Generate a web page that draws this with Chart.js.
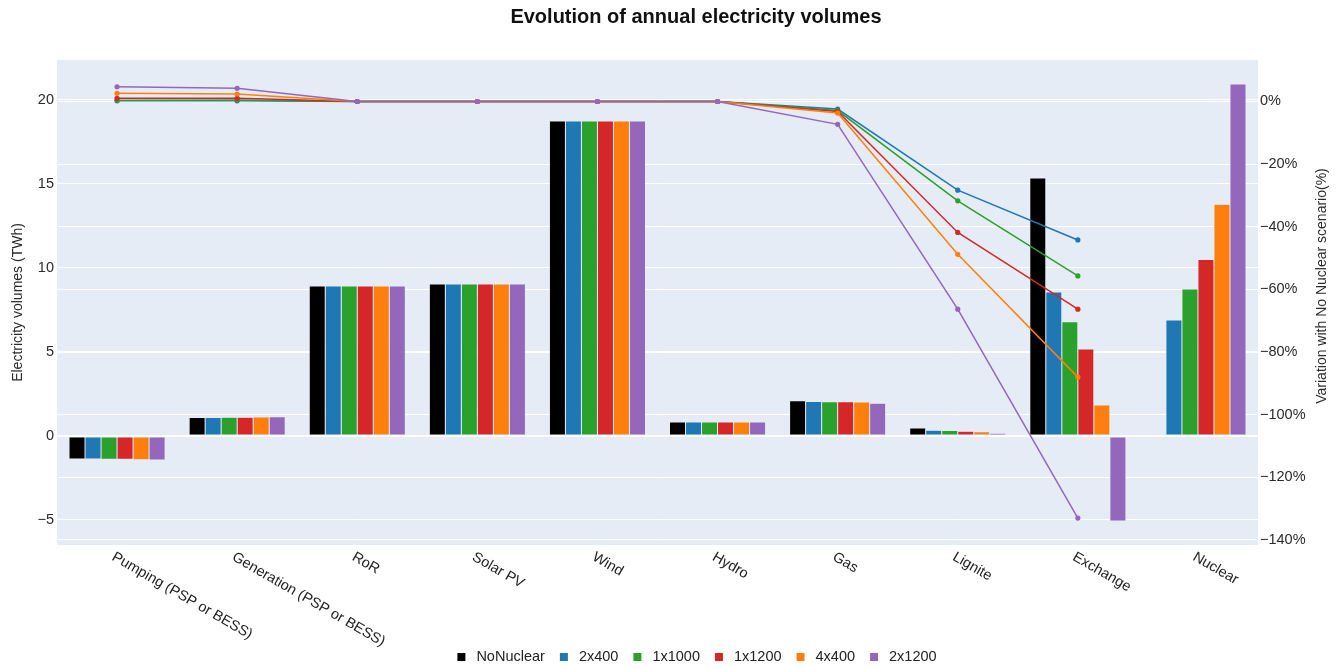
<!DOCTYPE html>
<html>
<head>
<meta charset="utf-8">
<title>Evolution of annual electricity volumes</title>
<script src="https://cdn.jsdelivr.net/npm/chart.js@4/dist/chart.umd.min.js"></script>
<style>
  html, body { margin: 0; padding: 0; background: #ffffff; }
  #wrap { width: 1343px; height: 669px; }
</style>
</head>
<body>
<div id="wrap"><canvas id="chart" width="1343" height="669"></canvas></div>
<script>
// Technologies on the category axis
const categories = ['Pumping (PSP or BESS)', 'Generation (PSP or BESS)', 'RoR', 'Solar PV', 'Wind',
                    'Hydro', 'Gas', 'Lignite', 'Exchange', 'Nuclear'];

// Scenarios and their colours
const scenarios = ['NoNuclear', '2x400', '1x1000', '1x1200', '4x400', '2x1200'];
const scenarioColors = ['#000000', '#1f77b4', '#2ca02c', '#d62728', '#ff7f0e', '#9467bd'];

// Annual volumes per scenario (TWh), one value per category
const volNoNuclear = [-1.37, 1.10, 8.93, 9.05, 18.75, 0.83, 2.10, 0.48, 15.36, 0];
const vol2x400     = [-1.37, 1.10, 8.93, 9.05, 18.75, 0.83, 2.05, 0.34, 8.57, 6.90];
const vol1x1000    = [-1.38, 1.11, 8.93, 9.05, 18.75, 0.83, 2.04, 0.33, 6.80, 8.75];
const vol1x1200    = [-1.38, 1.11, 8.93, 9.05, 18.75, 0.83, 2.03, 0.28, 5.18, 10.50];
const vol4x400     = [-1.41, 1.13, 8.93, 9.05, 18.75, 0.83, 2.02, 0.25, 1.85, 13.80];
const vol2x1200    = [-1.43, 1.15, 8.93, 9.05, 18.75, 0.83, 1.95, 0.16, -5.06, 20.95];

// Variation against the NoNuclear scenario (%), no value for Nuclear
const var2x400  = [0.2, 0.2, 0, 0, 0, 0, -2.4, -28.3, -44.2, null];
const var1x1000 = [0.4, 0.5, 0, 0, 0, 0, -2.9, -31.7, -55.7, null];
const var1x1200 = [1.0, 1.0, 0, 0, 0, 0, -3.2, -41.8, -66.3, null];
const var4x400  = [2.6, 2.4, 0, 0, 0, 0, -3.7, -48.8, -88.0, null];
const var2x1200 = [4.7, 4.2, 0, 0, 0, 0, -7.3, -66.3, -133.0, null];

// Axis ranges and tick steps
const volumeRange = [-6.49, 22.38];
const volumeStep = 5;
const variationRange = [-141.6, 13.25];
const variationStep = 20;

const FONT = "'Liberation Sans', Arial, Helvetica, sans-serif";
const TEXT = '#2b2b2b';
const PLOT_BG = '#E5ECF6';

const volumes = [volNoNuclear, vol2x400, vol1x1000, vol1x1200, vol4x400, vol2x1200];
const variations = [null, var2x400, var1x1000, var1x1200, var4x400, var2x1200];

const datasets = [];
scenarios.forEach((name, i) => {
  datasets.push({
    type: 'bar',
    label: name,
    data: volumes[i],
    backgroundColor: scenarioColors[i],
    borderColor: PLOT_BG,
    borderWidth: 0.5,
    borderSkipped: false,
    yAxisID: 'y',
    order: 20,
    categoryPercentage: 0.8,
    barPercentage: 1.0
  });
});
scenarios.forEach((name, i) => {
  if (!variations[i]) return;
  datasets.push({
    type: 'line',
    label: name + ' variation',
    data: variations[i],
    borderColor: scenarioColors[i],
    backgroundColor: scenarioColors[i],
    pointBackgroundColor: scenarioColors[i],
    pointBorderWidth: 0,
    pointRadius: 2.6,
    borderWidth: 1.5,
    tension: 0,
    spanGaps: false,
    fill: false,
    yAxisID: 'y2',
    order: 10 - i
  });
});

// Plot background behind the grid
const plotBackground = {
  id: 'plotBackground',
  beforeDraw(chart) {
    const { ctx, chartArea: a } = chart;
    ctx.save();
    ctx.fillStyle = PLOT_BG;
    ctx.fillRect(a.left, a.top, a.right - a.left, a.bottom - a.top);
    ctx.restore();
  }
};

// Title, slanted category labels, axis titles and legend
const annotations = {
  id: 'annotations',
  afterDraw(chart) {
    const { ctx, chartArea: a } = chart;
    const xs = chart.scales.x;
    ctx.save();

    // Title
    ctx.fillStyle = '#111';
    ctx.font = 'bold 20px ' + FONT;
    ctx.textAlign = 'center';
    ctx.textBaseline = 'middle';
    ctx.fillText('Evolution of annual electricity volumes', 696, 17);

    // Category labels rotated 30 degrees clockwise
    ctx.fillStyle = '#222';
    ctx.font = '14.5px ' + FONT;
    categories.forEach((label, i) => {
      const x = xs.getPixelForValue(i);
      ctx.save();
      ctx.translate(x - 4, a.bottom + 11);
      ctx.rotate(Math.PI / 6);
      ctx.textAlign = 'left';
      ctx.textBaseline = 'middle';
      ctx.fillText(label, 0, 0);
      ctx.restore();
    });

    // Axis titles
    ctx.fillStyle = TEXT;
    ctx.font = '14px ' + FONT;
    ctx.textAlign = 'center';
    ctx.textBaseline = 'middle';
    ctx.save();
    ctx.translate(18, (a.top + a.bottom) / 2);
    ctx.rotate(-Math.PI / 2);
    ctx.fillText('Electricity volumes (TWh)', 0, 0);
    ctx.restore();
    ctx.save();
    ctx.translate(1322, 286);
    ctx.rotate(-Math.PI / 2);
    ctx.fillText('Variation with No Nuclear scenario(%)', 0, 0);
    ctx.restore();

    // Legend (bar series only)
    const bars = chart.data.datasets.filter(d => d.type === 'bar');
    ctx.font = '14.5px ' + FONT;
    const box = 8, boxGap = 11, itemGap = 15;
    const widths = bars.map(d => ctx.measureText(d.label).width);
    let total = 0;
    widths.forEach((w, i) => { total += box + boxGap + w + (i < widths.length - 1 ? itemGap : 0); });
    let lx = 697 - total / 2;
    const ly = 657;
    ctx.textAlign = 'left';
    ctx.textBaseline = 'middle';
    bars.forEach((d, i) => {
      ctx.fillStyle = d.backgroundColor;
      ctx.fillRect(lx, ly - box / 2, box, box);
      ctx.fillStyle = '#222';
      ctx.fillText(d.label, lx + box + boxGap, ly);
      lx += box + boxGap + widths[i] + itemGap;
    });

    ctx.restore();
  }
};

new Chart(document.getElementById('chart'), {
  type: 'bar',
  data: { labels: categories, datasets },
  options: {
    responsive: false,
    animation: false,
    devicePixelRatio: 1,
    layout: { padding: { top: 60, bottom: 124, left: 0, right: 0 } },
    plugins: {
      legend: { display: false },
      title: { display: false },
      tooltip: { enabled: false }
    },
    scales: {
      x: {
        type: 'category',
        offset: true,
        grid: { display: false, drawTicks: false },
        border: { display: false },
        ticks: { display: false },
        afterFit(s) { s.height = 0; }
      },
      y: {
        position: 'left',
        min: volumeRange[0],
        max: volumeRange[1],
        ticks: {
          stepSize: volumeStep,
          includeBounds: false,
          padding: 3,
          color: TEXT,
          font: { family: FONT, size: 14.5 },
          callback: v => (v < 0 ? '\u2212' + Math.abs(v) : String(v))
        },
        grid: {
          color: '#ffffff',
          lineWidth: c => (c.tick && c.tick.value === 0 ? 2 : 1),
          drawTicks: false
        },
        border: { display: false },
        afterFit(s) { s.width = 57; }
      },
      y2: {
        position: 'right',
        min: variationRange[0],
        max: variationRange[1],
        ticks: {
          stepSize: variationStep,
          includeBounds: false,
          padding: 2,
          color: TEXT,
          font: { family: FONT, size: 14.5 },
          callback: v => (v < 0 ? '\u2212' + Math.abs(v) : String(v)) + '%'
        },
        grid: {
          color: '#ffffff',
          lineWidth: 1,
          drawTicks: false
        },
        border: { display: false },
        afterFit(s) { s.width = 85; }
      }
    }
  },
  plugins: [plotBackground, annotations]
});
</script>
</body>
</html>
